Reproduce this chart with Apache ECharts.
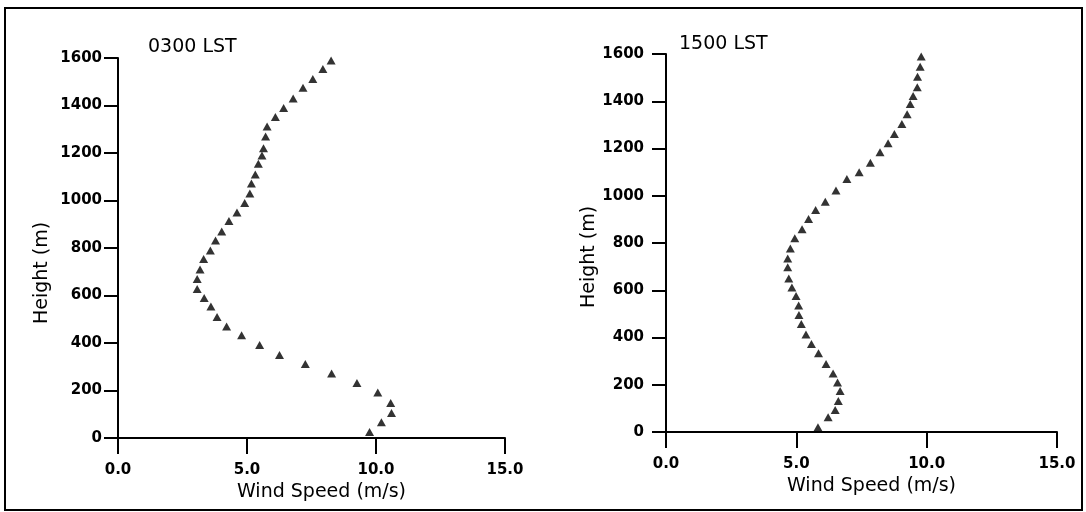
<!DOCTYPE html>
<html>
<head>
<meta charset="utf-8">
<script src="https://cdn.jsdelivr.net/npm/echarts@6/dist/echarts.min.js"></script>
<style>
html,body{margin:0;padding:0;background:#fff;}
#chart{width:1086px;height:512px;}
</style>
</head>
<body>
<div id="chart"></div>
<script>
// 0300 LST profile
var speed0300 = [9.75,10.21,10.60,10.57,10.07,9.26,8.28,7.26,6.26,5.49,4.79,4.21,3.84,3.60,3.34,3.07,3.07,3.18,3.32,3.58,3.78,4.02,4.30,4.61,4.91,5.11,5.17,5.32,5.44,5.58,5.64,5.72,5.78,6.10,6.42,6.79,7.17,7.55,7.94,8.26];
var height0300 = [25,66,105,147,192,232,272,312,349,392,433,470,509,554,589,627,669,709,754,790,832,870,914,950,989,1029,1072,1109,1155,1190,1220,1270,1312,1352,1389,1429,1475,1512,1554,1590];
// 1500 LST profile
var speed1500 = [5.83,6.22,6.49,6.61,6.68,6.58,6.41,6.14,5.85,5.58,5.37,5.19,5.10,5.09,4.99,4.83,4.71,4.67,4.67,4.77,4.94,5.22,5.47,5.74,6.11,6.52,6.94,7.41,7.84,8.21,8.52,8.76,9.05,9.25,9.37,9.48,9.64,9.65,9.75,9.79];
var height1500 = [20,62,93,131,174,210,248,288,333,372,413,457,495,535,576,612,650,697,734,777,820,858,902,940,975,1022,1071,1099,1140,1184,1222,1261,1304,1345,1388,1422,1459,1504,1546,1589];

var panelTitles = ['0300 LST', '1500 LST'];
var xName = 'Wind Speed (m/s)';
var yName = 'Height (m)';
var xTicks = [0, 5, 10, 15];
var yTicks = [0, 200, 400, 600, 800, 1000, 1200, 1400, 1600];

function pairs(xs, ys){ return xs.map(function(v,i){ return [v, ys[i]]; }); }

var FONT = 'DejaVu Sans';
var INK = '#000';

function xAxisCfg(gi, namePad){
  return {
    type:'value', gridIndex:gi, min:xTicks[0], max:xTicks[xTicks.length-1], interval:5,
    name:xName, nameLocation:'middle', nameGap:41,
    nameTextStyle:{fontFamily:FONT, fontSize:19, color:INK, padding:[0,0,0,namePad]},
    axisLine:{show:true, onZero:false, lineStyle:{color:INK, width:2}},
    axisTick:{show:true, length:16, lineStyle:{color:INK, width:2}},
    axisLabel:{fontFamily:FONT, fontSize:15, fontWeight:'bold', color:INK, margin:25, formatter:function(v){return v.toFixed(1);}},
    splitLine:{show:false}
  };
}
function yAxisCfg(gi, margin, nameGap, namePad){
  return {
    type:'value', gridIndex:gi, min:yTicks[0], max:yTicks[yTicks.length-1], interval:200,
    name:yName, nameLocation:'middle', nameGap:nameGap,
    nameTextStyle:{fontFamily:FONT, fontSize:19, color:INK, padding:[0,namePad,0,0]},
    axisLine:{show:true, onZero:false, lineStyle:{color:INK, width:2}},
    axisTick:{show:true, length:14, lineStyle:{color:INK, width:2}},
    axisLabel:{fontFamily:FONT, fontSize:15, fontWeight:'bold', color:INK, margin:margin, formatter:function(v){return String(v);}},
    splitLine:{show:false}
  };
}

var chart = echarts.init(document.getElementById('chart'), null, {renderer:'canvas'});
chart.setOption({
  backgroundColor:'#fff',
  animation:false,
  title:[
    {text:panelTitles[0], left:148, top:38, padding:0, textStyle:{fontFamily:FONT, fontSize:19, fontWeight:'normal', color:INK}},
    {text:panelTitles[1], left:679, top:35, padding:0, textStyle:{fontFamily:FONT, fontSize:19, fontWeight:'normal', color:INK}}
  ],
  graphic:[
    {type:'rect', shape:{x:5, y:8, width:1077, height:502}, style:{fill:null, stroke:INK, lineWidth:2}, silent:true, z:-1}
  ],
  grid:[
    {left:118, top:58, width:387, height:380},
    {left:666, top:54, width:391, height:378}
  ],
  xAxis:[xAxisCfg(0, 20), xAxisCfg(1, 20)],
  yAxis:[yAxisCfg(0, 16, 66, 50), yAxisCfg(1, 22, 64, 28)],
  series:[
    {type:'scatter', xAxisIndex:0, yAxisIndex:0, symbol:'triangle', symbolSize:[9,8], itemStyle:{color:INK}, data:pairs(speed0300, height0300)},
    {type:'scatter', xAxisIndex:1, yAxisIndex:1, symbol:'triangle', symbolSize:[9,8], itemStyle:{color:INK}, data:pairs(speed1500, height1500)}
  ]
});
</script>
</body>
</html>
